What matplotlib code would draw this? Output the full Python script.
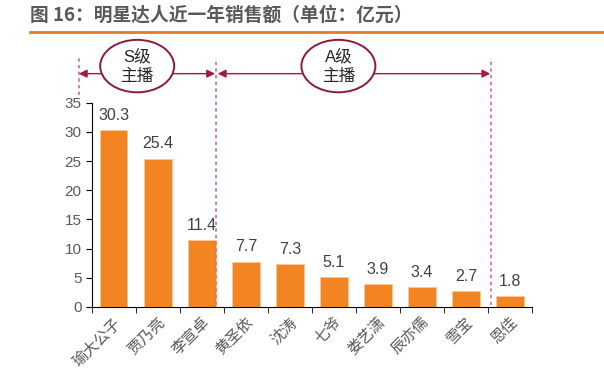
import matplotlib
matplotlib.use('Agg')
import matplotlib.pyplot as plt
from matplotlib.patches import Ellipse
import numpy as np

plt.rcParams['font.family'] = ['Liberation Sans', 'Noto Sans CJK SC', 'DejaVu Sans']

names = ['瑜大公子', '贾乃亮', '李宣卓', '黄圣依', '沈涛', '七爷', '娄艺潇', '辰亦儒', '雪宝', '恩佳']
sales = [30.3, 25.4, 11.4, 7.7, 7.3, 5.1, 3.9, 3.4, 2.7, 1.8]
yticks = [0, 5, 10, 15, 20, 25, 30, 35]
title = '图 16：明星达人近一年销售额（单位：亿元）'

bar_color = '#F28522'
dash_color = '#D0708A'
arrow_color = '#A3183F'
text_gray = '#595959'

fig = plt.figure(figsize=(6.04, 3.88), dpi=100)
ax = fig.add_axes([0.152, 0.209, 0.729, 0.526])

x = np.arange(len(names))
ax.bar(x, sales, width=0.62, color=bar_color, edgecolor='#F8C89A', linewidth=0.6)
for xi, v in zip(x, sales):
    ax.text(xi, v + 1.3, f'{v}', ha='center', va='bottom', fontsize=11.5, color='#404040')

ax.set_xlim(-0.5, len(names) - 0.5)
ax.set_ylim(0, 35)
ax.set_yticks(yticks)
ax.tick_params(axis='y', labelsize=11, colors=text_gray, length=4, direction='out')
ax.tick_params(axis='y', color='black')
ax.set_xticks(x)
ax.set_xticklabels(names, rotation=45, ha='right', rotation_mode='anchor', fontsize=11, color=text_gray)
ax.tick_params(axis='x', length=0, pad=6)
ax.set_xticks(np.arange(-0.5, len(names)), minor=True)
ax.tick_params(axis='x', which='minor', length=4, color='black', direction='out')
for s in ['top', 'right']:
    ax.spines[s].set_visible(False)
ax.spines['left'].set_color('black')
ax.spines['bottom'].set_color('black')

# group separators
ax.plot([-0.795, -0.795], [36.3, 42.7], ls=(0, (2, 2)), color=dash_color, lw=1.2, clip_on=False)
ax.plot([2.33, 2.33], [0.4, 42.7], ls=(0, (2, 2)), color=dash_color, lw=1.2, clip_on=False)
ax.plot([8.57, 8.57], [0.4, 42.7], ls=(0, (2, 2)), color=dash_color, lw=1.2, clip_on=False)

# group arrows
for x0, x1 in [(-0.795, 2.3), (2.36, 8.55)]:
    ax.annotate('', xy=(x0, 40.0), xytext=(x1, 40.0), xycoords='data',
                arrowprops=dict(arrowstyle='<|-|>', color=arrow_color, lw=1.0,
                                mutation_scale=12, shrinkA=0, shrinkB=0),
                annotation_clip=False)

for cx, label in [(0.53, 'S级\n主播'), (5.1, 'A级\n主播')]:
    e = Ellipse((cx, 41.3), 1.68, 9.0, facecolor='white', edgecolor='#8B1A3A', lw=1.4, clip_on=False, zorder=5)
    ax.add_patch(e)
    ax.text(cx, 41.3, label, ha='center', va='center', fontsize=12, color='#262626',
            linespacing=1.35, zorder=6, clip_on=False)

fig.text(0.05, 0.96, title, fontsize=13.5, fontweight='bold', color=text_gray, va='center', ha='left',
         family=['Noto Sans CJK SC', 'DejaVu Sans'])
fig.add_artist(plt.Line2D([0.05, 1.0], [0.917, 0.917], color='#E87A22', lw=2))

fig.savefig('out.png', dpi=100)
